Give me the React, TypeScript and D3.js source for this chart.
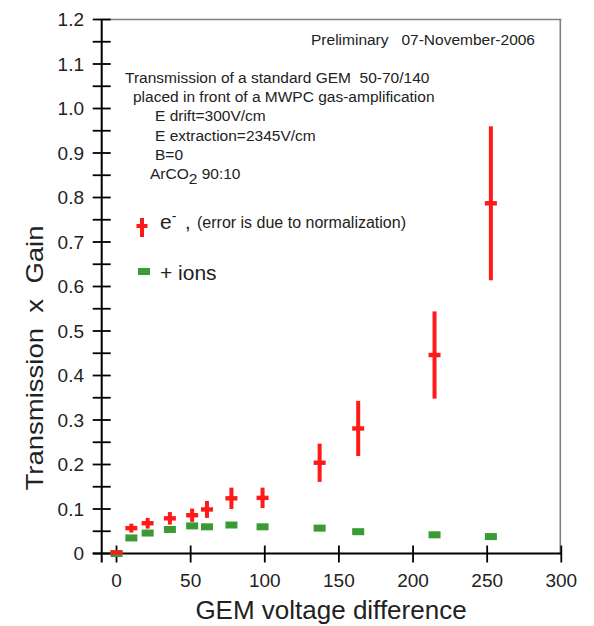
import React from 'react';
import * as d3 from 'd3';

// GEM voltage difference (V)
const voltages = [0, 10, 21, 36, 51, 61, 77.5, 98.5, 137, 163, 214.5, 252.5];
// electrons: transmission x gain, with normalisation error
const electronGain = [0.002, 0.057, 0.068, 0.079, 0.086, 0.099, 0.124, 0.125, 0.204, 0.281, 0.446, 0.787];
const electronErr = [0.003, 0.01, 0.012, 0.014, 0.015, 0.019, 0.024, 0.023, 0.043, 0.062, 0.098, 0.173];
// positive ions
const ionGain = [0, 0.035, 0.046, 0.054, 0.062, 0.06, 0.064, 0.06, 0.057, 0.049, 0.042, 0.038];

const xTicks = [0, 50, 100, 150, 200, 250, 300];
const yTicks = d3.range(0, 1.2001, 0.1);
const yMinorTicks = d3.range(0, 1.2001, 0.05);

const infoLines = [
  { text: 'Transmission of a standard GEM  50-70/140', dx: 125 },
  { text: 'placed in front of a MWPC gas-amplification', dx: 133 },
  { text: 'E drift=300V/cm', dx: 155 },
  { text: 'E extraction=2345V/cm', dx: 155 },
  { text: 'B=0', dx: 155 },
];

const RED = '#ff1a1a';
const GREEN = '#3a9a34';
const FONT = '"Liberation Sans", Arial, sans-serif';

export default function App() {
  const x = d3.scaleLinear().domain([-10, 300]).range([101.7, 561.3]);
  const y = d3.scaleLinear().domain([0, 1.2]).range([553.5, 19.5]);

  const x0 = x(-10);
  const y0 = y(0);

  return (
    <svg width={594} height={626} style={{ position: 'absolute', left: 0, top: 0, background: '#fff' }} fontFamily={FONT}>
      {/* frame top / right */}
      <line x1={x0} x2={x(300)} y1={y(1.2)} y2={y(1.2)} stroke="#808080" strokeWidth={1.6} />
      <line x1={x(300) - 1} x2={x(300) - 1} y1={y(1.2)} y2={y0} stroke="#808080" strokeWidth={1.6} />

      {/* y axis */}
      <line x1={x0} x2={x0} y1={y(1.2)} y2={y0 + 9} stroke="#000" strokeWidth={2} />
      {yMinorTicks.map((t, i) => (
        <line key={'ym' + i} x1={x0 - 9} x2={x0 + 9} y1={y(t)} y2={y(t)} stroke="#000" strokeWidth={1.8} />
      ))}
      {yTicks.map((t, i) => (
        <text key={'yt' + i} x={84} y={y(t)} dy="0.35em" textAnchor="end" fontSize={19} fill="#222">
          {i === 0 ? '0' : t.toFixed(1)}
        </text>
      ))}

      {/* x axis */}
      <line x1={x0 - 9} x2={x(300)} y1={y0} y2={y0} stroke="#000" strokeWidth={2} />
      {xTicks.map(t => (
        <g key={'xt' + t}>
          <line x1={x(t)} x2={x(t)} y1={y0 - 8} y2={y0 + 9} stroke="#000" strokeWidth={1.8} />
          <text x={x(t)} y={587} textAnchor="middle" fontSize={19} fill="#222">{t}</text>
        </g>
      ))}

      {/* axis titles */}
      <text x={331} y={619} textAnchor="middle" fontSize={26} fill="#222">GEM voltage difference</text>
      <text transform="translate(43,358) rotate(-90)" textAnchor="middle" fontSize={24} fill="#222"
        textLength={265} lengthAdjust="spacingAndGlyphs" style={{ whiteSpace: 'pre' }}>
        {'Transmission  x  Gain'}
      </text>

      {/* annotations */}
      <text x={535} y={45} textAnchor="end" fontSize={15.5} fill="#222" style={{ whiteSpace: 'pre' }}>
        {'Preliminary   07-November-2006'}
      </text>
      {infoLines.map((l, i) => (
        <text key={'info' + i} x={l.dx} y={83 + i * 19.2} fontSize={15.5} fill="#222" style={{ whiteSpace: 'pre' }}>
          {l.text}
        </text>
      ))}
      <text x={150} y={179} fontSize={15.5} fill="#222" style={{ whiteSpace: 'pre' }}>
        ArCO<tspan dy={5}>2</tspan><tspan dy={-5}>{' 90:10'}</tspan>
      </text>

      {/* legend */}
      <rect x={140} y={218} width={4} height={19} fill={RED} />
      <rect x={136.5} y={224} width={11} height={4} fill={RED} />
      <text x={160} y={229} fontSize={21} fill="#222">
        e<tspan dy={-8} fontSize={14}>-</tspan>
      </text>
      <text x={185} y={229} fontSize={20} fill="#222">,</text>
      <text x={197} y={228} fontSize={16} fill="#222">(error is due to normalization)</text>
      <rect x={138} y={268} width={12} height={7} fill={GREEN} />
      <text x={160} y={280} fontSize={21} fill="#222">+ ions</text>

      {/* ions */}
      {voltages.map((v, i) => (
        <rect key={'ion' + i} x={x(v) - 6} y={y(ionGain[i]) - 3.5} width={12} height={7} fill={GREEN} />
      ))}

      {/* electrons */}
      {voltages.map((v, i) => (
        <g key={'el' + i}>
          <rect x={x(v) - 2} y={y(electronGain[i] + electronErr[i])}
            width={4} height={Math.max(0, y(electronGain[i] - electronErr[i]) - y(electronGain[i] + electronErr[i]))}
            fill={RED} />
          <rect x={x(v) - 6} y={y(electronGain[i]) - 2.2} width={12} height={4.4} fill={RED} />
        </g>
      ))}
    </svg>
  );
}
